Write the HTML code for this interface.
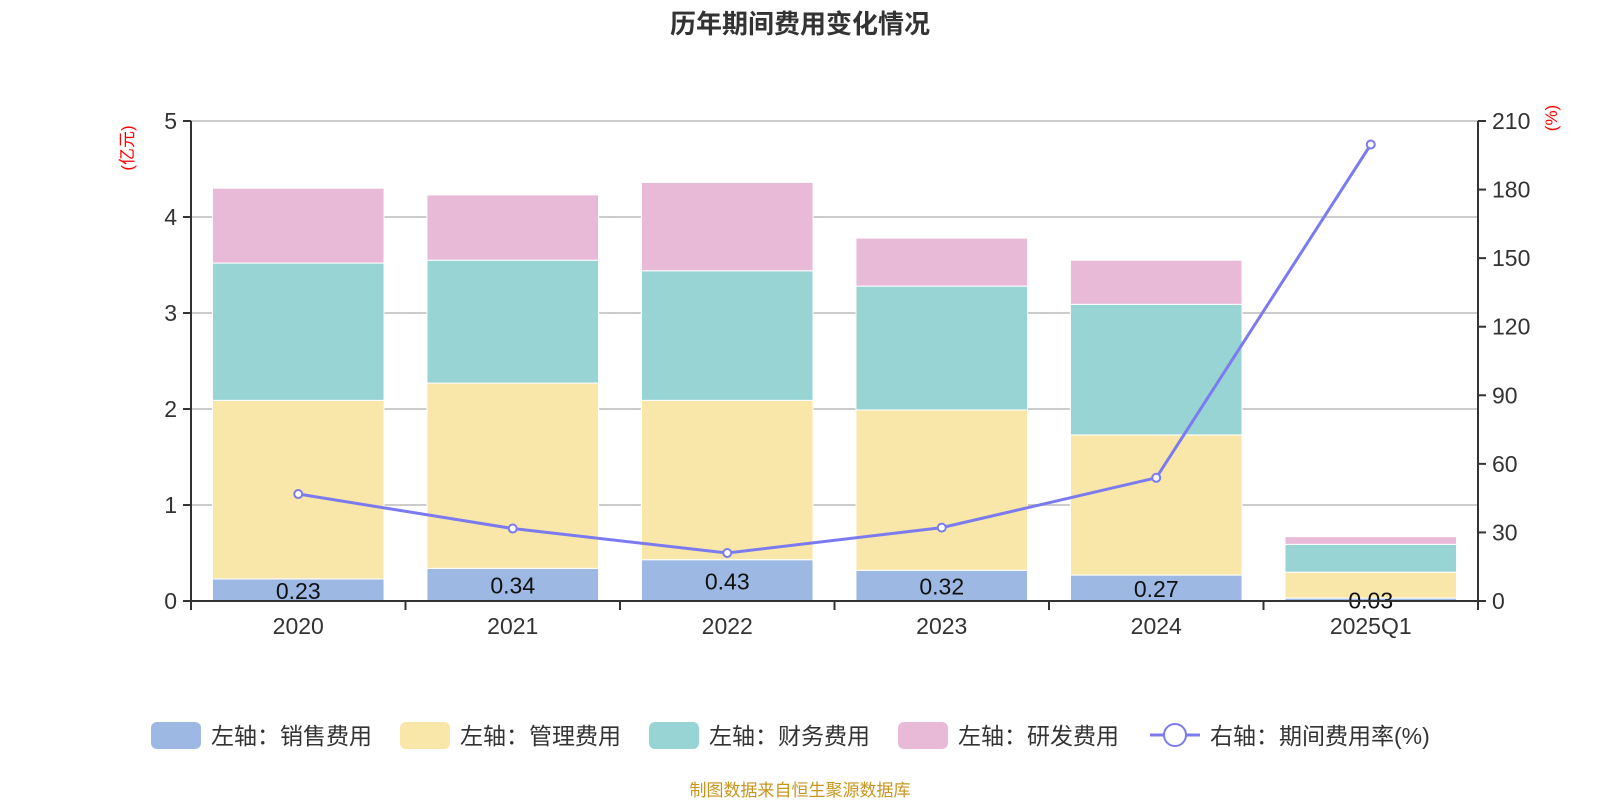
<!DOCTYPE html>
<html><head><meta charset="utf-8"><style>
body{margin:0;background:#fff;}
svg text{font-family:"Liberation Sans","Noto Sans CJK SC",sans-serif;}
</style></head><body>
<svg id="c" width="1600" height="800" xmlns="http://www.w3.org/2000/svg">
<text x="800" y="33" text-anchor="middle" font-size="26" font-weight="bold" fill="#333">历年期间费用变化情况</text>
<text transform="translate(133,148) rotate(-90)" text-anchor="middle" font-size="17" fill="#f00">(亿元)</text>
<text transform="translate(1557,118) rotate(-90)" text-anchor="middle" font-size="17" fill="#f00">(%)</text>
<g id="grid"></g><g id="bars"></g><g id="axes"></g><g id="line"></g><g id="legend"></g>
<text x="800" y="796" text-anchor="middle" font-size="17" fill="#c8961e">制图数据来自恒生聚源数据库</text>
</svg>
<script>
const categories=["2020","2021","2022","2023","2024","2025Q1"];
const sales=[0.23,0.34,0.43,0.32,0.27,0.03];
const mgmt=[1.86,1.93,1.66,1.67,1.46,0.27];
const finance=[1.43,1.28,1.35,1.29,1.36,0.29];
const rnd=[0.78,0.68,0.92,0.50,0.46,0.08];
const rate=[46.8,31.7,21.0,32.1,53.9,199.7];
const leftTicks=[0,1,2,3,4,5];
const rightTicks=[0,30,60,90,120,150,180,210];
const NS="http://www.w3.org/2000/svg";
const L=191,R=1478,T=121,B=601;
const yL=v=>B-(v/5)*(B-T);
const yR=v=>B-(v/210)*(B-T);
const cw=(R-L)/categories.length;
const xC=i=>L+cw*(i+0.5);
function mk(tag,attrs,parent){const e=document.createElementNS(NS,tag);for(const k in attrs)e.setAttribute(k,attrs[k]);document.getElementById(parent).appendChild(e);return e;}
leftTicks.forEach(v=>{
 if(v>0){const g=mk('line',{x1:L,x2:R,y1:yL(v),y2:yL(v),stroke:'#ccc','stroke-width':2},'grid');
 
 }
 const t=mk('text',{x:L-14,y:yL(v)+8,'text-anchor':'end','font-size':23,fill:'#333'},'axes');t.textContent=v;
 
 
 mk('line',{x1:L-8,x2:L,y1:yL(v),y2:yL(v),stroke:'#333','stroke-width':2},'axes');
});
rightTicks.forEach(v=>{
 const t=mk('text',{x:R+14,y:yR(v)+8,'text-anchor':'start','font-size':23,fill:'#333'},'axes');t.textContent=v;
 
 
 mk('line',{x1:R,x2:R+8,y1:yR(v),y2:yR(v),stroke:'#333','stroke-width':2},'axes');
});
mk('line',{x1:L,x2:L,y1:T,y2:B,stroke:'#333','stroke-width':2},'axes');
mk('line',{x1:R,x2:R,y1:T,y2:B,stroke:'#333','stroke-width':2},'axes');
mk('line',{x1:L,x2:R,y1:B,y2:B,stroke:'#333','stroke-width':2},'axes');
for(let i=0;i<=categories.length;i++)mk('line',{x1:L+cw*i,x2:L+cw*i,y1:B,y2:B+9,stroke:'#333','stroke-width':2},'axes');
const series=[[sales,'#9db8e2','sales'],[mgmt,'#f8e7a8','mgmt'],[finance,'#98d4d4','finance'],[rnd,'#e8bad8','rnd']];
const bw=cw*0.8;
categories.forEach((c,i)=>{
 let acc=0;
 series.forEach(([arr,col,nm])=>{
  const r=mk('rect',{x:xC(i)-bw/2,y:yL(acc+arr[i]),width:bw,height:yL(acc)-yL(acc+arr[i]),fill:col,stroke:'#fff','stroke-width':1},'bars');
  
  
  acc+=arr[i];
 });
 const lb=mk('text',{x:xC(i),y:(yL(sales[i])+B)/2+9,'text-anchor':'middle','font-size':23,fill:'#111'},'bars');lb.textContent=sales[i].toFixed(2);
 
 
 const xt=mk('text',{x:xC(i),y:B+33,'text-anchor':'middle','font-size':23,fill:'#333'},'axes');xt.textContent=c;
 
 
});
const pl=mk('polyline',{points:rate.map((v,i)=>xC(i)+','+yR(v)).join(' '),fill:'none',stroke:'#7b7bef','stroke-width':3},'line');


rate.forEach((v,i)=>{const p=mk('circle',{cx:xC(i),cy:yR(v),r:4,fill:'#fff',stroke:'#7b7bef','stroke-width':2},'line');
 
 });
const leg=[['#9db8e2','左轴：销售费用',151],['#f8e7a8','左轴：管理费用',400],['#98d4d4','左轴：财务费用',649],['#e8bad8','左轴：研发费用',898]];
leg.forEach(([col,txt,x])=>{
 const r=mk('rect',{x:x,y:722,width:50,height:27,rx:6,fill:col},'legend');
 
 
 const t=mk('text',{x:x+60,y:744,'font-size':23,fill:'#333'},'legend');t.textContent=txt;
 
 
});
mk('line',{x1:1150,x2:1200,y1:735,y2:735,stroke:'#7b7bef','stroke-width':3},'legend');
const lc=mk('circle',{cx:1175,cy:735,r:11,fill:'#fff',stroke:'#7b7bef','stroke-width':2},'legend');


const lt=mk('text',{x:1210,y:744,'font-size':23,fill:'#333'},'legend');lt.textContent='右轴：期间费用率(%)';


</script>
</body></html>
